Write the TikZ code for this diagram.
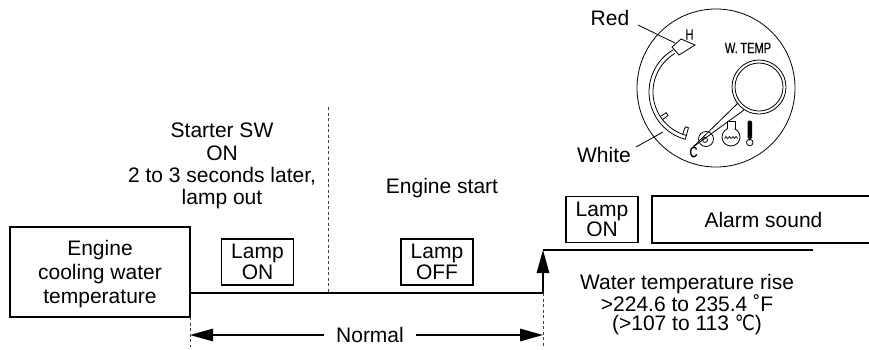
\documentclass[tikz,border=0pt]{standalone}
\usepackage{fontspec}
\setmainfont{Liberation Sans}
\newfontfamily\gaugefont{Liberation Sans}[FakeStretch=0.74, FakeBold=0.4]
\newfontfamily\symfont{DejaVu Sans}[FakeStretch=0.85]
\usetikzlibrary{arrows.meta}

\begin{document}
\begin{tikzpicture}[x=1pt,y=-1pt,
  every node/.style={inner sep=0pt},
  txt/.style={font=\fontsize{21}{22.3}\selectfont, align=center, text depth=0pt},
  tighttxt/.style={font=\fontsize{21}{19}\selectfont, align=center, text depth=0pt},
  framed/.style={draw, line width=1.3pt, align=center, text depth=0pt},
  lampbox/.style={framed, minimum width=72pt, minimum height=46pt,
    font=\fontsize{21}{20.5}\selectfont},
  guide/.style={dashed, dash pattern=on 3pt off 2.5pt, line width=0.7pt, black!75},
  level/.style={line width=1.8pt},
  tip/.style={-{Triangle[length=23pt,width=12.5pt]}, line width=1.4pt},
  thinline/.style={line width=0.8pt},
  gtext/.style={font=\gaugefont\fontsize{15}{15}\selectfont}
]
\useasboundingbox (0,0) rectangle (869,349);

% ---------- boxes ----------
\node[framed, minimum width=180pt, minimum height=90pt,
      font=\fontsize{21}{24}\selectfont] (ecw) at (100,272)
      {Engine\\cooling water\\temperature};
\node[lampbox] (lampon) at (257.5,262) {Lamp\\ON};
\node[lampbox] (lampoff) at (437,262) {Lamp\\OFF};
\node[lampbox] (lampon2) at (602,219.5) {Lamp\\ON};
\node[framed, minimum width=223pt, minimum height=47pt,
      font=\fontsize{21}{21}\selectfont] (alarm) at (763.5,219.5) {Alarm sound};

% ---------- texts ----------
\node[txt] (starter) at (222,164) {Starter SW\\ON\\2 to 3 seconds later,\\lamp out};
\node[txt] (estart) at (442,185.5) {Engine start};
\node[tighttxt] (rise) at (687,302.5)
  {Water temperature rise\\>224.6 to 235.4 \char"02DA F\\(>107 to 113 {\symfont\char"2103})};

% ---------- temperature level line ----------
\coordinate (l0) at (190,293);
\coordinate (l1) at (543,293);
\coordinate (l2) at (543,250);
\coordinate (l3) at (813,250);
\draw[level] (l0) -- (l1);
\draw[tip] (l1) -- (l2);
\draw[level] (l2) -- (l3);

% ---------- dotted guides ----------
\coordinate (g1a) at (328,107);
\coordinate (g1b) at (328,293);
\coordinate (g2a) at (190,317);
\coordinate (g2b) at (190,347);
\coordinate (g3a) at (543,293);
\coordinate (g3b) at (543,347);
\draw[guide] (g1a) -- (g1b);
\draw[guide] (g2a) -- (g2b);
\draw[guide] (g3a) -- (g3b);

% ---------- normal range ----------
\node[txt] (normal) at (370,334.5) {Normal};
\coordinate (n0) at (190,335);
\coordinate (n1) at (543,335);
\draw[tip] ([xshift=-12pt,yshift=-0.5pt]normal.west) -- (n0);
\draw[tip] ([xshift=12pt,yshift=-0.5pt]normal.east) -- (n1);

% ---------- gauge ----------
\draw[thinline] (716,88) circle[radius=79pt];

% scale band with white marks
\begin{scope}[shift={(698,92)}, thinline]
  \draw (105:49) arc[start angle=105, end angle=239, radius=49];
  \draw (105:45) arc[start angle=105, end angle=239, radius=45];
  \draw (105:49) -- (105:37) -- (110:37) -- (110:45);
  \draw (142:45) -- (142:38) -- (147:38) -- (147:45);
\end{scope}
% red mark
\draw[thinline, fill=white] (672,47) -- (681,39) -- (695,45) -- (679,55) -- cycle;

% pointer to the warning lamp
\coordinate (pv) at (693,147);
\coordinate (pa) at (738,103);
\coordinate (pb) at (744,110);
\draw[thinline] (pv) -- (pa);
\draw[thinline] (pv) -- (pb);
\draw[thinline] (759,87) circle[radius=27pt];
\draw[thinline] (759,87) circle[radius=24pt];
\draw[thinline] (706,139) circle[radius=7.5pt];
\draw[thinline] (705,140) circle[radius=2.5pt];

% flask symbol
\draw[thinline] (731,137) circle[radius=9pt];
\draw[thinline, fill=white] (727,128.5) -- (727,121) -- (735,121) -- (735,128.5);
\draw[line width=0.7pt] (724.5,138.5) -- (726,136.5) -- (727.5,138.5) -- (729.5,136.5)
  -- (731,138.5) -- (733,136.5) -- (734.5,138.5) -- (736,136.5) -- (737.5,138.5);

% thermometer symbol
\fill[rounded corners=1.5pt] (747.5,139) -- (747.5,120.5) -- (752,120.5) -- (752,139) -- cycle;
\draw[thinline, fill=white] (749.75,142.5) circle[radius=3.3pt];
\fill (749.75,139.5) circle[radius=1.2pt];

% gauge lettering
\node[gtext] (hmark) at (689.5,34.5) {H};
\node[gtext] (cmark) at (693.5,152) {C};
\node[gtext] (wtemp) at (748,48) {W.\,TEMP};

% colour callouts
\node[txt] (red) at (610,17.5) {Red};
\node[txt] (white) at (604,154.5) {White};
\coordinate (reda) at (638,25);
\coordinate (redtip) at (675,43);
\coordinate (whitea) at (636,147);
\coordinate (whitetip) at (663,132);
\draw[thinline] (reda) -- (redtip);
\draw[thinline] (whitea) -- (whitetip);
\end{tikzpicture}
\end{document}
